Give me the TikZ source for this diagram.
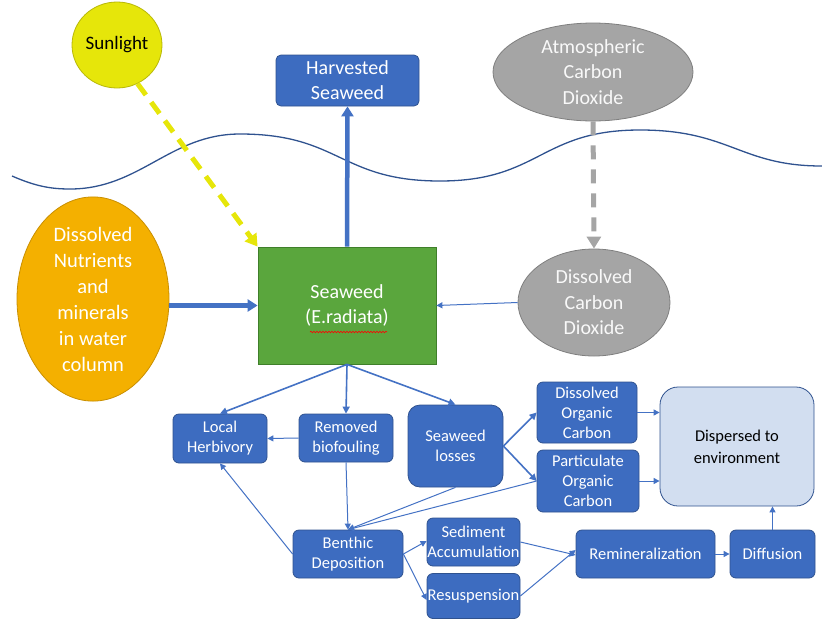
\documentclass[tikz,border=0pt]{standalone}
\usepackage{fontspec}
\setmainfont{Carlito}
\usetikzlibrary{arrows.meta,shapes.geometric,decorations.pathmorphing}
\definecolor{bl}{HTML}{3D6CC0}
\definecolor{bldark}{HTML}{2F528F}
\definecolor{ln}{HTML}{4472C4}
\definecolor{grn}{HTML}{5AA63D}
\definecolor{grndark}{HTML}{3F7F2A}
\definecolor{org}{HTML}{F4B000}
\definecolor{orgdark}{HTML}{C98F00}
\definecolor{gry}{HTML}{A5A5A5}
\definecolor{grydark}{HTML}{7F7F7F}
\definecolor{yel}{HTML}{E6E60A}
\definecolor{ltbl}{HTML}{D2DEF0}
\begin{document}
\begin{tikzpicture}[x=1pt,y=-1pt,
  box/.style={draw=bldark, fill=bl, rounded corners=6pt, text=white, align=center,
    font=\fontsize{16.5}{20}\selectfont, inner sep=0pt, line width=0.8pt},
  bigtext/.style={align=center, font=\fontsize{20}{25.5}\selectfont, inner sep=0pt},
  oval/.style={ellipse, bigtext, line width=0.8pt},
  thin/.style={draw=ln, line width=1pt, -{Triangle[length=6pt,width=6pt]}},
  mid/.style={draw=ln, line width=1.6pt, -{Triangle[length=7pt,width=7pt]}},
  thick/.style={draw=ln, line width=4.5pt, -{Triangle[length=10pt,width=12pt]}}
]
\useasboundingbox (0,0) rectangle (822,619);
% water surface
\draw[bldark, line width=1.3pt] (12,176) .. controls (35,186) and (50,189) .. (70,189)
  .. controls (140,189) and (170,134) .. (240,134)
  .. controls (340,134) and (340,181) .. (440,181)
  .. controls (540,181) and (540,130) .. (640,130)
  .. controls (730,130) and (740,166) .. (822,166);

% top nodes
\node[oval, fill=yel, draw=yel!80!black, text=black, minimum width=90pt, minimum height=86pt,
  font=\fontsize{19}{22}\selectfont] (sun) at (117,45) {Sunlight};
\node[box, rounded corners=5pt, minimum width=143pt, minimum height=51pt,
  font=\fontsize{20}{25}\selectfont] (hs) at (347.5,80.5) {Harvested\\Seaweed};
\node[oval, fill=gry, draw=grydark, text=white!95!gray, minimum width=200pt, minimum height=98pt] (atm) at (593,72)
  {Atmospheric\\Carbon\\Dioxide};

% middle nodes
\node[oval, fill=org, draw=orgdark, text=white, minimum width=152pt, minimum height=198pt,
  font=\fontsize{20.5}{26}\selectfont] (nut) at (93,299)
  {Dissolved\\Nutrients\\and\\minerals\\in water\\column};
\node[rectangle, fill=grn, draw=grndark, line width=0.8pt, text=white, bigtext,
  minimum width=178pt, minimum height=117pt] (sw) at (347,305.5)
  {Seaweed\\(E.radiata)};
\draw[red, line width=0.6pt, decorate, decoration={snake, amplitude=0.8pt, segment length=3pt}]
  (310,332) -- (387,332);
\node[oval, fill=gry, draw=grydark, text=white!95!gray, minimum width=152pt, minimum height=107pt] (dco) at (594,302.5)
  {Dissolved\\Carbon\\Dioxide};

% lower boxes
\node[box, minimum width=94pt, minimum height=49pt] (lh) at (220,438.5) {Local\\Herbivory};
\node[box, minimum width=94pt, minimum height=48pt] (rb) at (346,438) {Removed\\biofouling};
\node[box, rounded corners=12pt, minimum width=95pt, minimum height=82pt] (sl) at (455.5,446) {Seaweed\\losses};
\node[box, minimum width=100pt, minimum height=61pt] (doc) at (587,412.5) {Dissolved\\Organic\\Carbon};
\node[box, minimum width=102pt, minimum height=62pt] (poc) at (588,481) {Particulate\\Organic\\Carbon};
\node[box, fill=ltbl, text=black, rounded corners=18pt, minimum width=154pt, minimum height=119pt,
  font=\fontsize{16.5}{22}\selectfont] (de) at (737,446.5) {Dispersed to\\environment};
\node[box, minimum width=110pt, minimum height=48pt] (bd) at (348,554) {Benthic\\Deposition};
\node[box, minimum width=93pt, minimum height=48pt] (sa) at (473.5,542) {Sediment\\Accumulation};
\node[box, minimum width=93pt, minimum height=45pt] (rs) at (473.5,596) {Resuspension};
\node[box, minimum width=139pt, minimum height=48pt] (rm) at (645.5,554) {Remineralization};
\node[box, minimum width=85pt, minimum height=48pt] (df) at (772.5,554) {Diffusion};

% top arrows
\draw[yel, line width=5pt, dash pattern=on 14pt off 9pt, -{Triangle[length=12pt,width=14pt]}]
  (sun.-62) -- (sw.north west);
\draw[gry, line width=5pt, dash pattern=on 14pt off 10pt, -{Triangle[length=12pt,width=14pt]}]
  (atm.south) -- (dco.north);
\draw[thick] (sw.north) -- (hs.south);
\draw[thick] (nut.east |- sw.west) -- (sw.west);
\draw[thin] (dco.west) -- (sw.east);

% lower arrows
\draw[mid] (sw.south) -- (lh.north);
\draw[mid] (sw.south) -- (rb.north);
\draw[mid] (sw.south) -- (sl.north);
\draw[thin] (rb.west) -- (lh.east);
\draw[thin] (rb.south) -- (bd.north);
\draw[thin] (bd.west) -- (lh.south);
\draw[thin] (sl.south) -- (bd.north);
\draw[thin] (poc.west) -- (bd.north);
\draw[mid] (sl.east) -- (doc.west);
\draw[mid] (sl.east) -- (poc.west);
\draw[thin] (doc.east) -- (doc.east -| de.west);
\draw[thin] (poc.east) -- (poc.east -| de.west);
\draw[thin] (bd.east) -- ([yshift=1pt]sa.west);
\draw[thin] (bd.east) -- ([yshift=-4pt]rs.west);
\draw[thin] (sa.east) -- ([yshift=-1pt]rm.west);
\draw[thin] (rs.east) -- ([yshift=4pt]rm.west);
\draw[thin] (rm.east) -- (df.west);
\draw[thin] (df.north) -- (df.north |- de.south);
\end{tikzpicture}
\end{document}
